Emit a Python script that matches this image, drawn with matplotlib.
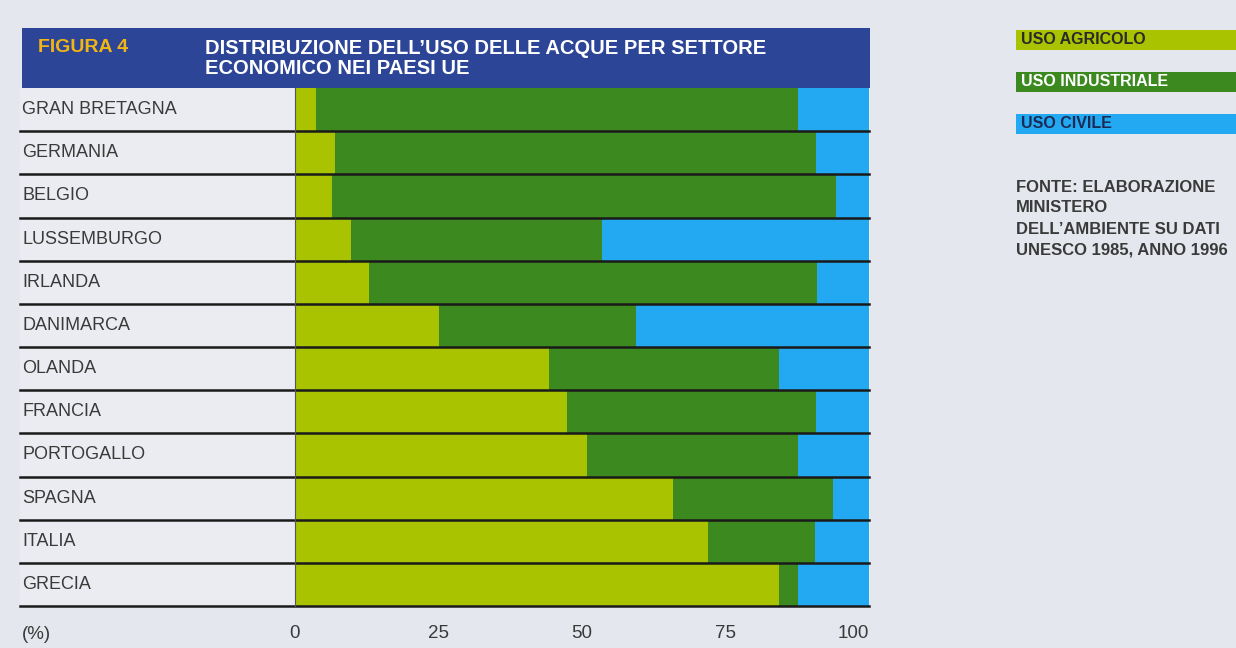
import matplotlib
matplotlib.use("Agg")
import matplotlib.pyplot as plt
from matplotlib.patches import Rectangle

plt.rcParams['font.family'] = ['Liberation Sans', 'DejaVu Sans']

# data (percent of total water use)
paesi = ['GRAN BRETAGNA', 'GERMANIA', 'BELGIO', 'LUSSEMBURGO', 'IRLANDA', 'DANIMARCA',
         'OLANDA', 'FRANCIA', 'PORTOGALLO', 'SPAGNA', 'ITALIA', 'GRECIA']
agricolo = [3.6, 6.9, 6.4, 9.7, 12.9, 25.1, 44.3, 47.4, 50.8, 65.8, 71.9, 84.3]
industriale = [84.1, 83.8, 87.8, 43.7, 78.0, 34.3, 40.1, 43.4, 36.8, 28.0, 18.7, 3.3]
civile = [12.3, 9.3, 5.8, 46.6, 9.1, 40.6, 15.6, 9.2, 12.4, 6.2, 9.4, 12.4]
xticks = [0, 25, 50, 75, 100]

serie = ['USO AGRICOLO', 'USO INDUSTRIALE', 'USO CIVILE']
colori = ['#a9c300', '#3c8a1f', '#22a9f2']
testo_leg = ['#2a2a2a', 'white', '#1c2a55']

W, H = 1236, 648
BG = '#e4e7ed'


def fx(x):
    return x / W


def fy(y):
    return 1 - y / H


fig = plt.figure(figsize=(W / 100, H / 100), dpi=100)
fig.patch.set_facecolor(BG)

# light panel behind the chart
fig.add_artist(Rectangle((fx(20), fy(606)), fx(870) - fx(20), fy(88) - fy(606),
                         transform=fig.transFigure, facecolor='#eaecf1', edgecolor='none', zorder=0))
# title bar
fig.add_artist(Rectangle((fx(22), fy(88)), fx(870) - fx(22), fy(28) - fy(88),
                         transform=fig.transFigure, facecolor='#2c4596', edgecolor='none', zorder=1))
fig.text(fx(38), fy(48), 'FIGURA 4', color='#f2b514', fontsize=14, fontweight='bold',
         va='center', ha='left')
fig.text(fx(205), fy(48), "DISTRIBUZIONE DELL\u2019USO DELLE ACQUE PER SETTORE",
         color='white', fontsize=14.5, fontweight='bold', va='center', ha='left')
fig.text(fx(205), fy(69), "ECONOMICO NEI PAESI UE",
         color='white', fontsize=14.5, fontweight='bold', va='center', ha='left')

ax = fig.add_axes([fx(295), fy(606), fx(869) - fx(295), fy(88) - fy(606)])
ax.set_facecolor('none')

y = list(range(len(paesi)))
left2 = [a for a in agricolo]
left3 = [a + i for a, i in zip(agricolo, industriale)]
ax.barh(y, agricolo, height=1.0, color=colori[0], zorder=2)
ax.barh(y, industriale, left=left2, height=1.0, color=colori[1], zorder=2)
ax.barh(y, civile, left=left3, height=1.0, color=colori[2], zorder=2)

ax.set_xlim(0, 100)
ax.set_ylim(len(paesi) - 0.5, -0.5)

# row separators, running under the labels too
x0 = (20 - 295) / (869 - 295)
ytr = ax.get_yaxis_transform()
for i in range(len(paesi)):
    ax.plot([x0, 1], [i + 0.5, i + 0.5], transform=ytr, color='#1a1a1a', lw=1.8,
            clip_on=False, zorder=3)
    ax.text(x0 + 0.004, i, paesi[i], transform=ytr, ha='left', va='center',
            fontsize=13, color='#3a3a3a')

for s in ['top', 'right', 'bottom']:
    ax.spines[s].set_visible(False)
ax.spines['left'].set_color('#555555')
ax.spines['left'].set_linewidth(0.8)
ax.spines['left'].set_zorder(4)

ax.set_yticks([])
ax.set_xticks(xticks)
ax.set_xticklabels([str(t) for t in xticks])
ax.tick_params(axis='x', length=0, pad=14, labelsize=13.5, labelcolor='#3a3a3a')
ax.get_xticklabels()[-1].set_horizontalalignment('right')
ax.text(x0 + 0.004, -0.055, '(%)', transform=ax.transAxes, ha='left', va='center',
        fontsize=13.5, color='#3a3a3a')

# legend boxes on the right
leg_y = [40, 82, 124]
for nome, col, tc, yy in zip(serie, colori, testo_leg, leg_y):
    fig.add_artist(Rectangle((fx(1016), fy(yy + 10)), fx(W) - fx(1016), fy(yy - 10) - fy(yy + 10),
                             transform=fig.transFigure, facecolor=col, edgecolor='none'))
    fig.text(fx(1021), fy(yy), nome, color=tc, fontsize=11.5, fontweight='bold',
             va='center', ha='left')

fonte = ["FONTE: ELABORAZIONE", "MINISTERO", "DELL\u2019AMBIENTE SU DATI", "UNESCO 1985, ANNO 1996"]
for k, riga in enumerate(fonte):
    fig.text(fx(1016), fy(187 + k * 21), riga, color='#3a3a3a', fontsize=12,
             fontweight='bold', va='center', ha='left')

fig.savefig('out.png', dpi=100, facecolor=fig.get_facecolor())
